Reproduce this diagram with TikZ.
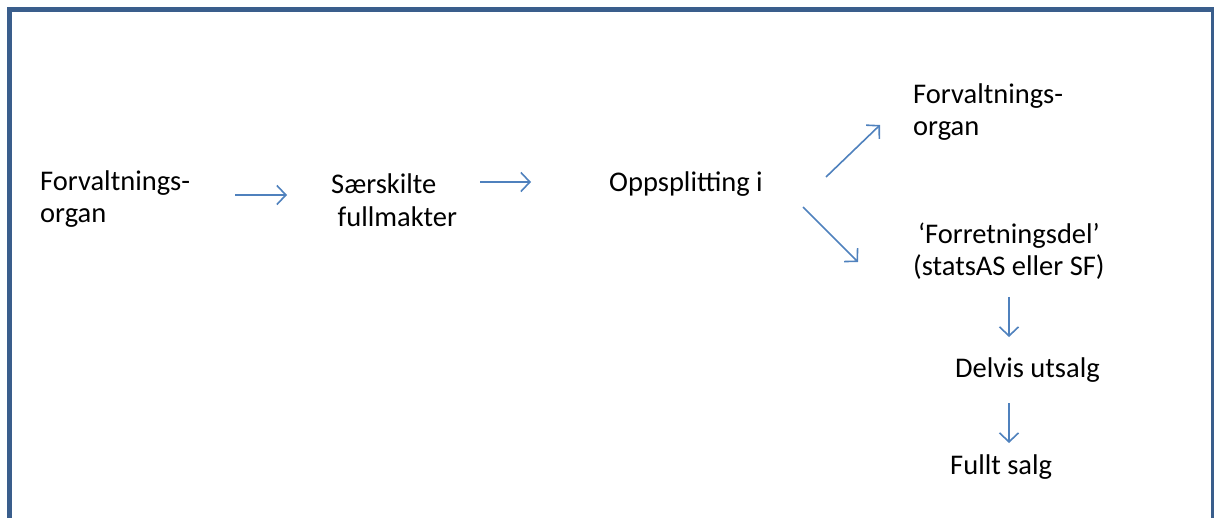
\documentclass[tikz,border=0pt]{standalone}
\usepackage{fontspec}
\setmainfont{Carlito}
\usetikzlibrary{arrows.meta}
\definecolor{framecol}{HTML}{3A5E8C}
\definecolor{arrowcol}{HTML}{4F81BD}
\begin{document}
\begin{tikzpicture}[x=1pt,y=-1pt,
  lbl/.style={inner sep=0pt,anchor=west,align=left,font=\fontsize{28.5}{32.5}\selectfont},
  flow/.style={draw=arrowcol,line width=1.6pt,-{Straight Barb[length=9pt,width=19pt]}}]
\useasboundingbox (0,0) rectangle (1214,518);
\begin{scope}
\clip (0,0) rectangle (1214,518);
\draw[framecol,line width=5pt] (9.8,530) -- (9.8,9.3) -- (1213.5,9.3) -- (1213.5,530);
\end{scope}
% texts
\node[lbl] (f1) at (40,199) {Forvaltnings-\\organ};
\node[lbl] (sf) at (331,200) {Særskilte\\\ fullmakter};
\node[lbl] (op) at (609,184) {Oppsplitting i};
\node[lbl] (f2) at (913,112) {Forvaltnings-\\organ};
\node[lbl,align=center] (fd) at (913,251) {‘Forretningsdel’\\(statsAS eller SF)};
\node[lbl] (dv) at (955,370) {Delvis utsalg};
\node[lbl] (fs) at (950,467) {Fullt salg};
% connector end points
\coordinate (a1s) at (235,195); \coordinate (a1e) at (287,195);
\coordinate (a2s) at (480,182); \coordinate (a2e) at (531,182);
\coordinate (a3s) at (826,177); \coordinate (a3e) at (880,125);
\coordinate (a4s) at (803,207); \coordinate (a4e) at (858,262);
\coordinate (a5s) at (1009,297); \coordinate (a5e) at (1009,337);
\coordinate (a6s) at (1009,403); \coordinate (a6e) at (1009,443);
\draw[flow] (a1s) -- (a1e);
\draw[flow] (a2s) -- (a2e);
\draw[flow] (a3s) -- (a3e);
\draw[flow] (a4s) -- (a4e);
\draw[flow] (a5s) -- (a5e);
\draw[flow] (a6s) -- (a6e);
\end{tikzpicture}
\end{document}
